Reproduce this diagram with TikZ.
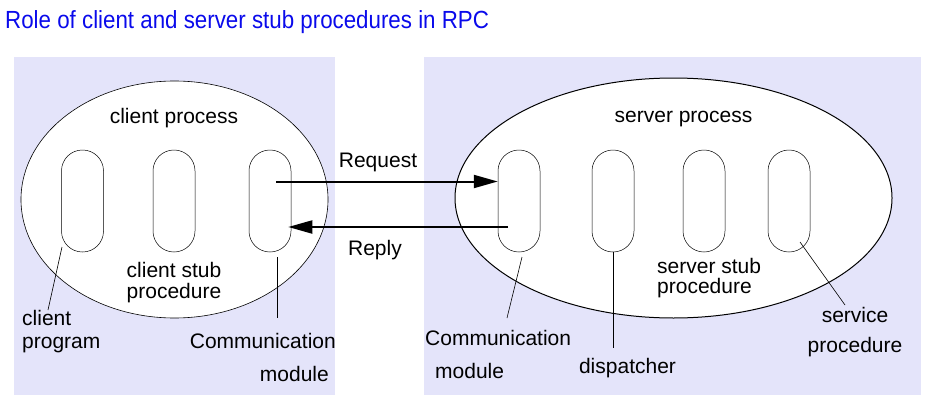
\documentclass[tikz,border=0pt]{standalone}
\usepackage{fontspec}
\setmainfont{Liberation Sans}
\newfontfamily\titlefont{Liberation Sans}[FakeStretch=0.9]
\usepackage{tikz}
\usetikzlibrary{arrows.meta,shapes.geometric,positioning}
\definecolor{panel}{RGB}{228,228,250}
\definecolor{titleblue}{RGB}{10,10,235}

\begin{document}
\begin{tikzpicture}
[x=1pt,y=-1pt,
capsule/.style={draw=black!100,rectangle,rounded corners=20.9pt,minimum width=42pt,minimum height=102pt,inner sep=0pt,line width=0.5pt},
proc/.style={draw=black!100,fill=white,ellipse,inner sep=0pt},
txt/.style={font=\fontsize{21}{23}\selectfont,inner sep=0pt},
msg/.style={-{Triangle[length=24pt,width=13pt]},line width=2pt},
lead/.style={line width=0.6pt}]

\useasboundingbox (0,0) rectangle (928,404);

\node[anchor=base west,inner sep=0pt,text=titleblue,font=\titlefont\fontsize{24.8}{28}\selectfont] (T) at (5,29) {Role of client and server stub procedures in RPC};

\fill[panel] (14,57) rectangle (335,395);
\fill[panel] (424,57) rectangle (921,395);

\node[proc,line width=0.6pt,minimum width=307pt,minimum height=237pt] (client) at (174.5,199.5) {};
\node[proc,line width=1pt,minimum width=437pt,minimum height=240pt] (server) at (673.5,198) {};

\node[txt,anchor=base] (cpr) at (174,123) {client process};
\node[txt,anchor=base] (spr) at (683.5,122) {server process};

\node[capsule] (cc1) at (82.5,201) {};
\node[capsule] (cc2) at (174,201) {};
\node[capsule] (cc3) at (270,201) {};

\node[capsule] (sc1) at (519,201) {};
\node[capsule] (sc2) at (613,201) {};
\node[capsule] (sc3) at (704,201) {};
\node[capsule] (sc4) at (789,201) {};

\node[txt,anchor=base] (req) at (378,167) {Request};
\node[txt,anchor=base] (rep) at (375,255) {Reply};

\draw[msg] ([shift={(6,-19.5)}]cc3.center) -- ([shift={(0,-19.5)}]sc1.west);
\draw[msg] ([shift={(-11,26)}]sc1.center) -- ([shift={(-3,26)}]cc3.east);

\node[txt,anchor=base,align=center] (cst) at (174,298) {client stub\\[-2pt]procedure};
\node[txt,anchor=base west,align=left] (sst) at (657,293) {server stub\\[-3pt]procedure};

\node[txt,anchor=base west,align=left] (cp) at (22,348) {client\\program};
\node[txt,anchor=base east,align=right] (cml) at (336,381) {Communication\\[10pt]module\hspace*{7pt}};
\node[txt,anchor=base west,align=left] (cmr) at (425,378) {Communication\\[10pt]\hspace*{10pt}module};
\node[txt,anchor=base] (dp) at (627.5,373) {dispatcher};
\node[txt,anchor=base,align=center] (sv) at (855,352) {service\\[7pt]procedure};

\draw[lead] ([shift={(-20.5,46)}]cc1.center) -- ([shift={(26,-38)}]cp.base west);
\draw[lead] ([shift={(7,56)}]cc3.center) -- ([shift={(-59,-63)}]cml.base east);
\draw[lead] ([shift={(3,56)}]sc1.center) -- ([shift={(82,-60)}]cmr.base west);
\draw[lead] (sc2.south) -- ([shift={(-14.5,-25)}]dp.base);
\draw[lead] ([shift={(11,41)}]sc4.center) -- ([shift={(-10,-47)}]sv.base);
\end{tikzpicture}
\end{document}
